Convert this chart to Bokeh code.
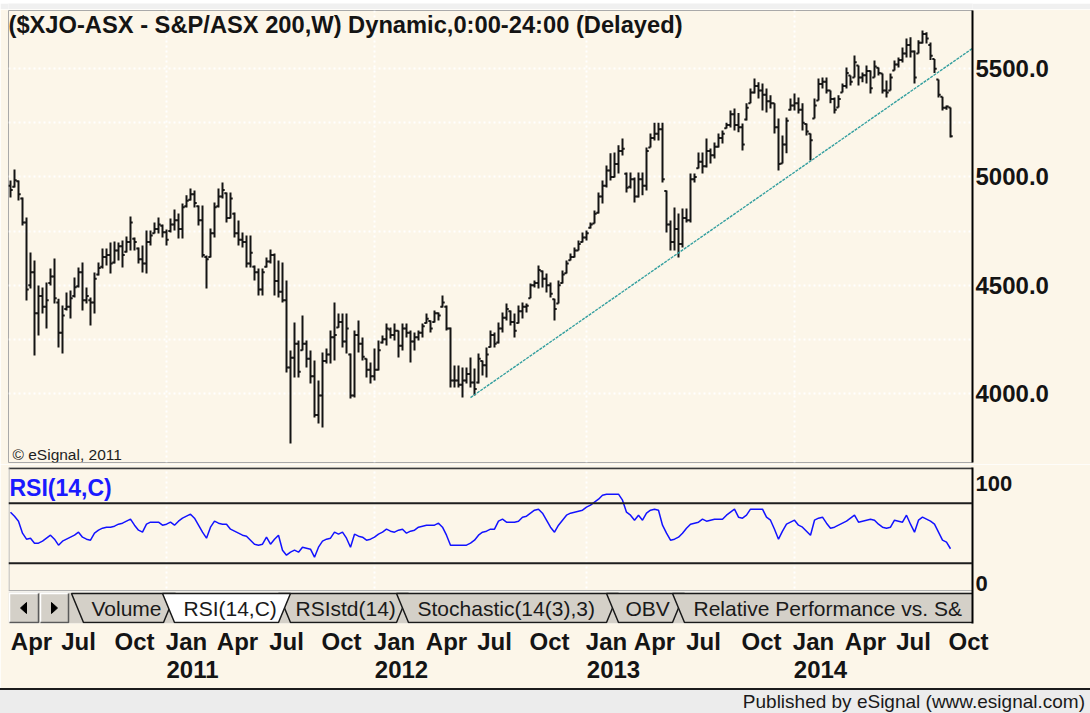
from bokeh.plotting import figure
from bokeh.models import (Range1d, LinearAxis, FixedTicker, NumeralTickFormatter,
                          Label, Span, Grid, ColumnDataSource, Div)
from bokeh.layouts import column
from bokeh.transform import dodge
from bokeh.core.properties import value
from bokeh.embed import file_html
from bokeh.resources import INLINE

# ---------------- weekly OHLC of S&P/ASX 200 ----------------
open_2010 = [4960, 4955, 4980, 4900, 4790, 4500, 4560, 4370, 4450, 4400, 4510, 4540, 4420, 4280, 4390, 4400,
             4450, 4495, 4560, 4430, 4430, 4420, 4550, 4585, 4630, 4640, 4605, 4660, 4680, 4655, 4700, 4715,
             4670, 4620, 4600, 4700, 4740, 4760, 4775]
high_2010 = [4984, 5035, 4984, 4905, 4813, 4651, 4614, 4499, 4489, 4513, 4577, 4623, 4438, 4406, 4466, 4476,
             4536, 4582, 4605, 4489, 4443, 4559, 4605, 4670, 4670, 4697, 4702, 4697, 4707, 4725, 4817, 4720,
             4674, 4684, 4753, 4753, 4790, 4813, 4781]
low_2010 = [4905, 4951, 4891, 4776, 4429, 4485, 4175, 4268, 4369, 4300, 4499, 4415, 4212, 4185, 4383, 4346,
            4443, 4489, 4383, 4415, 4314, 4369, 4545, 4577, 4591, 4554, 4600, 4614, 4582, 4651, 4660, 4660,
            4600, 4559, 4554, 4684, 4739, 4739, 4720]
close_2010 = [4940, 4985, 4920, 4790, 4480, 4560, 4370, 4450, 4400, 4430, 4540, 4440, 4280, 4360, 4400, 4440,
              4490, 4560, 4430, 4450, 4420, 4530, 4580, 4630, 4640, 4600, 4660, 4680, 4640, 4700, 4790, 4700,
              4620, 4600, 4700, 4730, 4760, 4780, 4745]

open_2011 = [4745, 4750, 4780, 4800, 4760, 4865, 4895, 4920, 4865, 4800, 4630, 4630, 4740, 4865, 4910, 4925,
             4810, 4830, 4740, 4710, 4700, 4600, 4585, 4560, 4480, 4585, 4610, 4640, 4520, 4470, 4430, 4120,
             4165, 4230, 4200, 4230, 4160, 4080, 3900, 3990, 4150, 4180, 4260, 4305, 4330, 4240, 4180, 3990,
             4270, 4230, 4160, 4110]
high_2011 = [4757, 4808, 4850, 4831, 4877, 4915, 4947, 4938, 4868, 4868, 4637, 4762, 4882, 4947, 4975, 4928,
             4928, 4836, 4799, 4743, 4730, 4730, 4591, 4577, 4577, 4628, 4665, 4646, 4614, 4605, 4522, 4198,
             4328, 4245, 4360, 4245, 4198, 4152, 4060, 4189, 4208, 4291, 4420, 4369, 4369, 4369, 4185, 4291,
             4337, 4258, 4161, 4143]
low_2011 = [4684, 4744, 4753, 4716, 4716, 4859, 4891, 4859, 4776, 4628, 4485, 4628, 4720, 4859, 4901, 4790,
            4808, 4720, 4684, 4674, 4582, 4582, 4522, 4453, 4453, 4582, 4600, 4453, 4443, 4420, 4097, 3769,
            4074, 4074, 4198, 4120, 4046, 3889, 3861, 3843, 4138, 4138, 4152, 4304, 4212, 4185, 3977, 3981,
            4189, 4152, 4074, 4046]
close_2011 = [4710, 4780, 4800, 4760, 4860, 4890, 4920, 4880, 4800, 4640, 4620, 4740, 4860, 4910, 4940, 4810,
              4900, 4740, 4710, 4700, 4600, 4650, 4560, 4480, 4560, 4610, 4640, 4520, 4470, 4430, 4120, 4165,
              4230, 4100, 4230, 4160, 4080, 3900, 3990, 4150, 4180, 4260, 4270, 4330, 4240, 4300, 3990, 4270,
              4230, 4170, 4110, 4080]

open_2012 = [4080, 4110, 4235, 4250, 4295, 4270, 4290, 4220, 4300, 4280, 4240, 4260, 4280, 4325, 4335, 4330,
             4370, 4400, 4400, 4300, 4060, 4060, 4040, 4060, 4090, 4050, 4050, 4150, 4130, 4215, 4270, 4235,
             4300, 4350, 4380, 4330, 4325, 4380, 4400, 4440, 4500, 4510, 4565, 4530, 4500, 4435, 4415, 4510,
             4555, 4615, 4630, 4660, 4700]
high_2012 = [4208, 4245, 4268, 4323, 4305, 4323, 4291, 4323, 4323, 4291, 4282, 4291, 4323, 4369, 4337, 4383,
             4374, 4453, 4406, 4305, 4129, 4129, 4120, 4120, 4166, 4115, 4185, 4152, 4212, 4291, 4282, 4328,
             4374, 4415, 4383, 4369, 4406, 4420, 4415, 4508, 4522, 4591, 4568, 4554, 4513, 4438, 4522, 4568,
             4614, 4646, 4674, 4707, 4743]
low_2012 = [4060, 4106, 4231, 4222, 4254, 4245, 4166, 4198, 4258, 4143, 4198, 4245, 4258, 4323, 4282, 4328,
            4337, 4397, 4291, 4028, 4028, 4028, 3981, 4046, 4028, 3991, 4046, 4083, 4074, 4212, 4212, 4231,
            4282, 4337, 4314, 4258, 4323, 4346, 4374, 4440, 4489, 4485, 4489, 4466, 4443, 4337, 4415, 4508,
            4554, 4614, 4628, 4660, 4697]
close_2012 = [4110, 4200, 4250, 4300, 4270, 4290, 4220, 4300, 4280, 4240, 4260, 4280, 4310, 4345, 4300, 4370,
              4360, 4420, 4300, 4060, 4060, 4040, 4060, 4090, 4050, 4020, 4160, 4130, 4180, 4270, 4230, 4300,
              4350, 4390, 4330, 4290, 4380, 4400, 4405, 4500, 4510, 4570, 4530, 4500, 4460, 4390, 4500, 4550,
              4600, 4630, 4660, 4690, 4720]

open_2013 = [4720, 4765, 4785, 4835, 4910, 4960, 5030, 5000, 5060, 5120, 5015, 4955, 4990, 4910, 4990, 4960,
             5136, 5180, 5200, 5220, 4935, 4780, 4700, 4760, 4690, 4810, 4800, 4990, 5040, 5070, 5050, 5120,
             5100, 5140, 5180, 5225, 5240, 5290, 5240, 5230, 5265, 5340, 5390, 5420, 5400, 5380, 5350, 5340,
             5230, 5062, 5150, 5310]
high_2013 = [4753, 4790, 4845, 4928, 4984, 5053, 5109, 5113, 5146, 5178, 5021, 5021, 4998, 5021, 5021, 5136,
             5201, 5251, 5251, 5251, 4938, 4799, 4859, 4831, 4854, 4854, 5016, 5016, 5113, 5113, 5178, 5132,
             5159, 5201, 5215, 5251, 5307, 5316, 5295, 5247, 5340, 5409, 5455, 5437, 5432, 5409, 5377, 5340,
             5270, 5192, 5275, 5363]
low_2013 = [4707, 4762, 4785, 4831, 4877, 4951, 4984, 4998, 5016, 5099, 4928, 4947, 4882, 4905, 4915, 4938,
            5136, 5169, 5169, 4975, 4744, 4660, 4660, 4628, 4674, 4790, 4790, 4975, 5039, 5016, 5044, 5062,
            5085, 5136, 5155, 5224, 5229, 5215, 5207, 5122, 5261, 5340, 5386, 5363, 5307, 5298, 5316, 5201,
            5030, 5062, 5109, 5307]
close_2013 = [4740, 4780, 4830, 4910, 4960, 5030, 5000, 5060, 5120, 5130, 4950, 4990, 4910, 4990, 4960, 5120,
              5180, 5200, 5220, 4990, 4780, 4700, 4760, 4690, 4810, 4800, 4990, 5000, 5070, 5050, 5120, 5100,
              5140, 5180, 5200, 5240, 5290, 5240, 5230, 5150, 5320, 5390, 5420, 5400, 5380, 5350, 5340, 5230,
              5060, 5150, 5260, 5330]

open_2014 = [5330, 5340, 5310, 5245, 5200, 5270, 5353, 5430, 5440, 5400, 5360, 5321, 5390, 5420, 5469, 5460,
             5515, 5460, 5470, 5490, 5460, 5505, 5478, 5400, 5400, 5492, 5520, 5540, 5570, 5610, 5580, 5570,
             5620, 5660, 5610, 5545, 5450, 5370, 5320, 5321]
high_2014 = [5386, 5367, 5340, 5247, 5201, 5363, 5455, 5460, 5460, 5400, 5367, 5377, 5432, 5506, 5469, 5561,
             5515, 5483, 5515, 5492, 5538, 5506, 5478, 5446, 5478, 5538, 5552, 5598, 5640, 5645, 5584, 5631,
             5677, 5668, 5621, 5545, 5450, 5370, 5330, 5321]
low_2014 = [5307, 5293, 5215, 5192, 5076, 5270, 5353, 5409, 5386, 5340, 5293, 5321, 5390, 5409, 5423, 5460,
            5423, 5437, 5432, 5386, 5460, 5469, 5386, 5367, 5400, 5492, 5506, 5529, 5552, 5552, 5432, 5570,
            5617, 5617, 5540, 5480, 5367, 5307, 5310, 5182]
close_2014 = [5340, 5310, 5250, 5210, 5170, 5330, 5430, 5440, 5400, 5360, 5310, 5360, 5420, 5480, 5440, 5530,
              5460, 5470, 5490, 5410, 5510, 5480, 5400, 5390, 5460, 5520, 5540, 5570, 5610, 5580, 5460, 5620,
              5660, 5640, 5560, 5500, 5380, 5320, 5325, 5188.3]

# ---------------- RSI(14,C), weekly ----------------
rsi_2010 = [71, 67, 62, 50, 44, 45, 40, 40, 42, 45, 48, 44, 38, 42, 44, 46, 48, 51, 46, 44,
            43, 50, 53, 55, 56, 56, 57, 59, 60, 62, 64, 58, 53, 51, 59, 61, 61, 61, 58]
rsi_2011 = [59, 61, 58, 62, 65, 67, 69, 65, 58, 51, 45, 56, 62, 60, 59, 59, 54, 52, 50, 48,
            47, 43, 39, 38, 39, 46, 39, 44, 48, 33, 28, 31, 33, 31, 36, 35, 34, 26, 36, 42,
            44, 45, 51, 49, 51, 45, 36, 49, 47, 46, 43, 44]
rsi_2012 = [46, 49, 51, 54, 52, 51, 53, 54, 50, 52, 53, 56, 57, 58, 58, 58, 60, 56, 48, 38,
            38, 38, 38, 38, 40, 43, 48, 51, 52, 54, 54, 62, 64, 61, 61, 61, 62, 66, 67, 70,
            73, 74, 70, 63, 56, 51, 58, 63, 68, 70, 71, 72, 73]
rsi_2013 = [76, 78, 81, 84, 88, 89, 89, 89, 89, 83, 71, 68, 63, 68, 63, 70, 73, 74, 73, 58,
            50, 43, 44, 46, 50, 55, 59, 60, 61, 64, 62, 63, 64, 64, 64, 68, 71, 74, 66, 65,
            68, 74, 74, 74, 74, 66, 63, 54, 44, 52, 59, 61]
rsi_2014 = [63, 58, 56, 52, 48, 63, 65, 66, 60, 55, 56, 58, 60, 62, 65, 68, 61, 62, 63, 64,
            63, 59, 56, 55, 56, 63, 62, 61, 68, 59, 51, 63, 66, 64, 62, 59, 51, 43, 41, 34.45]
rsi_levels = [80, 20]

# support trend line drawn on the chart: week index and price at both ends
trend_week = [115, 240.5]
trend_price = [3981, 5594]

# axes / ticks
price_ticks = [4000, 4500, 5000, 5500]
price_grid = [4000, 4250, 4500, 4750, 5000, 5250, 5500]
rsi_ticks = [0, 100]
year_start_weeks = [39, 91, 144, 196]
month_label_weeks = [5.25, 17, 31, 44, 56.75, 69, 82.75, 96, 109, 121, 134.75, 149, 161, 173.25,
                     187.75, 200.75, 213.75, 225.75, 239.5]
month_labels = ["Apr", "Jul", "Oct", "Jan", "Apr", "Jul", "Oct", "Jan", "Apr", "Jul", "Oct", "Jan",
                "Apr", "Jul", "Oct", "Jan", "Apr", "Jul", "Oct"]
year_label_weeks = [45.5, 97.75, 150.75, 202.5]
year_labels = ["2011", "2012", "2013", "2014"]
tab_names = ["Volume", "RSI(14,C)", "RSIstd(14)", "Stochastic(14(3),3)", "OBV",
             "Relative Performance vs. S&"]

opens = open_2010 + open_2011 + open_2012 + open_2013 + open_2014
highs = high_2010 + high_2011 + high_2012 + high_2013 + high_2014
lows = low_2010 + low_2011 + low_2012 + low_2013 + low_2014
closes = close_2010 + close_2011 + close_2012 + close_2013 + close_2014
rsi = rsi_2010 + rsi_2011 + rsi_2012 + rsi_2013 + rsi_2014
weeks = list(range(len(closes)))

FONT = "Liberation Sans"
CREAM = "#fcf6e9"
INK = "#141414"
GRID = "#ffffff"
W = 1090
BL, BR = 8, 118          # left / right borders so that the frames span x = 8 .. 972

x_range = Range1d(-0.5, 240.5)


def chart_fig(height, y_range, top, bottom):
    f = figure(width=W, height=height, x_range=x_range, y_range=y_range,
               x_axis_type=None, y_axis_location="right", title=None,
               output_backend="svg", toolbar_location=None,
               min_border_left=BL, min_border_right=BR,
               min_border_top=top, min_border_bottom=bottom,
               background_fill_color=CREAM, border_fill_color=CREAM)
    ax = f.yaxis[0]
    ax.axis_line_color = "#000000"
    ax.axis_line_width = 2
    ax.major_tick_line_color = None
    ax.minor_tick_line_color = None
    ax.major_tick_out = 0
    ax.major_tick_in = 0
    ax.major_label_standoff = 3
    ax.major_label_text_font = FONT
    ax.major_label_text_font_style = "bold"
    ax.major_label_text_color = INK
    return f


# ---------------- window strip above the chart ----------------
top_strip = figure(width=W, height=9, x_range=Range1d(0, 1), y_range=Range1d(0, 1),
                   x_axis_type=None, y_axis_type=None, title=None,
                   output_backend="svg", toolbar_location=None,
                   min_border_left=BL, min_border_right=BR, min_border_top=0, min_border_bottom=0,
                   background_fill_color="#f0f0f0", border_fill_color="#f0f0f0",
                   outline_line_color=None)

# ---------------- price panel (frame y = 10 .. 462) ----------------
p = chart_fig(455, Range1d(3681, 5769), 1, 2)
p.outline_line_color = "#a9a9a9"
p.yaxis.ticker = FixedTicker(ticks=price_ticks, minor_ticks=[])
p.yaxis.formatter = NumeralTickFormatter(format="0.0")
p.yaxis.major_label_text_font_size = "24px"
p.ygrid.ticker = FixedTicker(ticks=price_grid, minor_ticks=[])
p.ygrid.grid_line_color = GRID
p.ygrid.grid_line_width = 2
p.ygrid.grid_line_dash = "2 3"
p.add_layout(Grid(dimension=0, ticker=FixedTicker(ticks=year_start_weeks, minor_ticks=[]),
                  grid_line_color=GRID, grid_line_width=2, grid_line_dash="2 3"))

src = ColumnDataSource(dict(week=weeks, open=opens, high=highs, low=lows, close=closes))
p.segment(x0="week", y0="low", x1="week", y1="high", source=src, line_color=INK, line_width=2)
p.segment(x0=dodge("week", -0.55), y0="open", x1="week", y1="open", source=src,
          line_color=INK, line_width=2)
p.segment(x0="week", y0="close", x1=dodge("week", 0.55), y1="close", source=src,
          line_color=INK, line_width=2)
p.line(trend_week, trend_price, line_color="#36a0a0", line_width=1.4, line_dash="3 1")

p.add_layout(Label(x=x_range.start, y=p.y_range.end, x_offset=0, y_offset=-1,
                   text="($XJO-ASX - S&P/ASX 200,W) Dynamic,0:00-24:00 (Delayed)",
                   text_font=FONT, text_font_size="23.7px", text_font_style="bold",
                   text_color=INK, text_baseline="top", text_align="left"))
p.add_layout(Label(x=x_range.start, y=p.y_range.start, x_offset=4, y_offset=8,
                   text="\u00a9 eSignal, 2011", text_font=FONT, text_font_size="15.5px",
                   text_color="#1e1e1e", text_baseline="alphabetic", text_align="left"))
p.add_layout(Label(x=x_range.end, y=closes[-1], x_offset=1, text=f"{closes[-1]:.1f}",
                   text_font=FONT, text_font_size="24px", text_font_style="bold",
                   text_color="white", text_baseline="middle", text_align="left",
                   background_fill_color="black", padding=2))

# ---------------- RSI panel + indicator tab strip (frame y = 467 .. 623) ----------------
r = chart_fig(224, Range1d(-40.3, 115.7), 3, 65)
r.outline_line_color = None
r.extra_x_ranges = {"px": Range1d(BL, W - BR)}
r.extra_y_ranges = {"px": Range1d(623, 467)}
r.yaxis.ticker = FixedTicker(ticks=rsi_ticks, minor_ticks=[])
r.yaxis.major_label_text_font_size = "22px"
r.ygrid.visible = False
r.add_layout(Grid(dimension=0, ticker=FixedTicker(ticks=year_start_weeks, minor_ticks=[]),
                  grid_line_color=GRID, grid_line_width=2, grid_line_dash="2 3"))
for lv in rsi_levels:
    r.add_layout(Span(location=lv, dimension="width", line_color="#1e1e1e", line_width=2))
r.line(weeks, rsi, line_color="#1212ff", line_width=1.5)
r.add_layout(Label(x=x_range.start, y=r.y_range.end, x_offset=1, y_offset=-7,
                   text="RSI(14,C)", text_font=FONT, text_font_size="23px",
                   text_font_style="bold", text_color="#1a1aff",
                   text_baseline="top", text_align="left"))
r.add_layout(Label(x=x_range.end, y=rsi[-1], x_offset=1, text=f"{rsi[-1]:.2f}",
                   text_font=FONT, text_font_size="22px", text_font_style="bold",
                   text_color="white", text_baseline="middle", text_align="left",
                   background_fill_color="#0000ff", padding=2))

PX = dict(x_range_name="px", y_range_name="px")
# panel edges
r.line([8, 972], [467.8, 467.8], line_color="#3a3a3a", line_width=2, **PX)
r.line([8.5, 8.5], [467, 590], line_color="#a9a9a9", line_width=1, **PX)
r.line([8, 972], [590, 590], line_color="#b0b0b0", line_width=1, **PX)
# tab strip
r.quad(left=[8], right=[972], top=[591], bottom=[623], fill_color="#d4d0c8", line_color=None, **PX)
r.line([8, 972], [591.5, 591.5], line_color="white", line_width=1, **PX)
r.quad(left=[9, 40], right=[38, 68], top=[593, 593], bottom=[622, 622],
       fill_color="#d4d0c8", line_color=None, **PX)
r.multi_line(xs=[[9, 9, 38], [40, 40, 68]], ys=[[622, 593, 593], [622, 593, 593]],
             line_color="white", line_width=1.5, **PX)
r.multi_line(xs=[[9, 38, 38], [40, 68, 68]], ys=[[622, 622, 593], [622, 622, 593]],
             line_color="#5a5a5a", line_width=1.5, **PX)
r.patches(xs=[[20, 26, 26], [57, 51, 51]], ys=[[607.5, 602, 613], [607.5, 602, 613]],
          fill_color="black", line_color="black", **PX)

tab_left = [71, 162, 278, 396, 606, 672]
tab_right = [175, 290, 408, 618, 684, 1010]
tab_text_x = [91, 183, 295, 417, 625, 693]
active = 1
order = [i for i in range(len(tab_names)) if i != active] + [active]
for i in order:
    L, R = tab_left[i], tab_right[i]
    r.patch([L, L + 12, R - 12, R], [593, 622, 622, 593],
            fill_color="white" if i == active else "#d4d0c8",
            line_color="#1a1a1a", line_width=1.5, **PX)
r.text(x=tab_text_x, y=[607.5] * len(tab_names), text=tab_names,
       text_font=value(FONT), text_font_size=value("21px"), text_color="#1a1a1a",
       text_baseline="middle", text_align="left", **PX)


def time_axis(ticks, labels, standoff):
    ax = LinearAxis(ticker=FixedTicker(ticks=ticks, minor_ticks=[]),
                    major_label_overrides={t: s for t, s in zip(ticks, labels)},
                    axis_line_color=None, major_tick_line_color=None,
                    minor_tick_line_color=None, major_tick_out=0, major_tick_in=0,
                    major_label_standoff=standoff, major_label_text_font=FONT,
                    major_label_text_font_size="24px", major_label_text_font_style="bold",
                    major_label_text_color=INK)
    r.add_layout(ax, "below")


time_axis(month_label_weeks, month_labels, 4)
time_axis(year_label_weeks, year_labels, 3)

# ---------------- footer ----------------
foot = Div(text="Published by eSignal (www.esignal.com)", width=W, height=25,
           styles={"background-color": "#ececec", "border-top": "2px solid #1c1c1c",
                   "box-sizing": "border-box", "text-align": "right",
                   "padding-right": "5px", "font-family": "'Liberation Sans', Arial, sans-serif",
                   "font-size": "19px", "line-height": "23px", "color": "#1a1a1a",
                   "overflow": "hidden", "white-space": "nowrap", "margin": "0"})

layout = column(top_strip, p, r, foot, spacing=0)
open("out.html", "w").write(file_html(layout, INLINE))
